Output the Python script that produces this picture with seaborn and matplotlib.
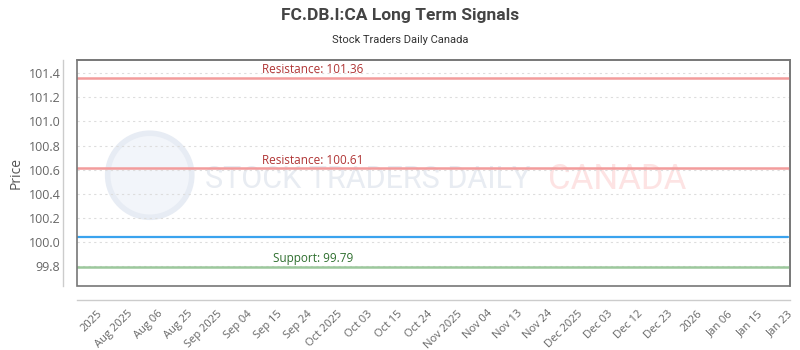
import numpy as np
import pandas as pd
import seaborn as sns
import matplotlib.pyplot as plt
from matplotlib.patches import Rectangle, Ellipse
import matplotlib.transforms as mtransforms

# chart values
date_labels = ['2025', 'Aug 2025', 'Aug 06', 'Aug 25', 'Sep 2025', 'Sep 04', 'Sep 15',
               'Sep 24', 'Oct 2025', 'Oct 03', 'Oct 15', 'Oct 24', 'Nov 2025', 'Nov 04',
               'Nov 13', 'Nov 24', 'Dec 2025', 'Dec 03', 'Dec 12', 'Dec 23', '2026',
               'Jan 06', 'Jan 15', 'Jan 23']
resistance = [101.36, 100.61]
support = [99.79]
price_level = 100.04
y_ticks = [99.8, 100.0, 100.2, 100.4, 100.6, 100.8, 101.0, 101.2, 101.4]

sns.set_theme(style='white')
plt.rcParams['font.family'] = ['Open Sans', 'DejaVu Sans']

fig = plt.figure(figsize=(8, 3.5), dpi=100)
ax = fig.add_axes([0.09625, 0.1829, 0.89125, 0.6457])

# offset axis lines + frame (set first: moving spines resets the ticks)
for side in ['left', 'bottom']:
    ax.spines[side].set_position(('outward', 10))
    ax.spines[side].set_color('#cccccc')
    ax.spines[side].set_linewidth(1)
for side in ['top', 'right']:
    ax.spines[side].set_color('#777777')
    ax.spines[side].set_linewidth(1.2)
ax.add_patch(Rectangle((0, 0), 1, 1, transform=ax.transAxes, fill=False, ec='#777777',
                       lw=1.2, clip_on=False, zorder=5))

# watermark
ax.add_patch(Ellipse((0.102, 0.49), 0.118, 0.372, transform=ax.transAxes, fc='#f2f5fa',
                     ec='#e7ecf4', lw=4, zorder=0))
ax.text(0.18, 0.469, 'STOCK TRADERS DAILY', transform=ax.transAxes, fontsize=22,
        family='Roboto', color='#e8ecf2', va='center', ha='left', zorder=0)
ax.text(0.66, 0.469, 'CANADA', transform=ax.transAxes, fontsize=25,
        family='Roboto', color='#fde3e3', va='center', ha='left', zorder=0)

# grid
for t in y_ticks:
    ax.axhline(t, color='#dddddd', lw=0.8, ls=(0, (2, 3)), zorder=1)

trans = mtransforms.blended_transform_factory(ax.transAxes, ax.transData)
for r in resistance:
    ax.axhline(r, color='#f39c9c', lw=1.8, zorder=3)
    ax.text(0.331, r + 0.015, f'Resistance: {r:.2f}', transform=trans, ha='center',
            va='bottom', fontsize=8.5, color='#b03535', zorder=4)
for s in support:
    ax.axhline(s, color='#9cc89c', lw=1.8, zorder=3)
    ax.text(0.331, s + 0.015, f'Support: {s:.2f}', transform=trans, ha='center',
            va='bottom', fontsize=8.5, color='#2f6f2f', zorder=4)

ax.axhline(price_level, xmax=0.997, color='#3aa3ee', lw=1.6, zorder=3)

x_pos = np.arange(len(date_labels))
ax.set_xlim(-0.667, 23.1)
ax.set_ylim(99.634, 101.51)
ax.tick_params(axis='both', length=0, labelcolor='#666666')
ax.tick_params(axis='y', pad=2, labelsize=9)
ax.tick_params(axis='x', pad=6, labelsize=8)
ax.set_xticks(x_pos)
ax.set_xticklabels(date_labels)
plt.setp(ax.get_xticklabels(), rotation=45, ha='right', va='top', rotation_mode='anchor')
ax.set_yticks(y_ticks)
ax.set_yticklabels([f'{t:.1f}' for t in y_ticks])
ax.set_ylabel('Price', fontsize=10, color='#555555')
ax.yaxis.set_label_coords(-0.075, 0.5)

fig.text(0.5, 0.955, 'FC.DB.I:CA Long Term Signals', ha='center', va='center',
         fontsize=12.5, fontweight='bold', color='#444444', family='Roboto')
fig.text(0.5, 0.885, 'Stock Traders Daily Canada', ha='center', va='center',
         fontsize=8, color='#333333', family='Roboto')

fig.savefig('out.png', dpi=100, facecolor='white')
